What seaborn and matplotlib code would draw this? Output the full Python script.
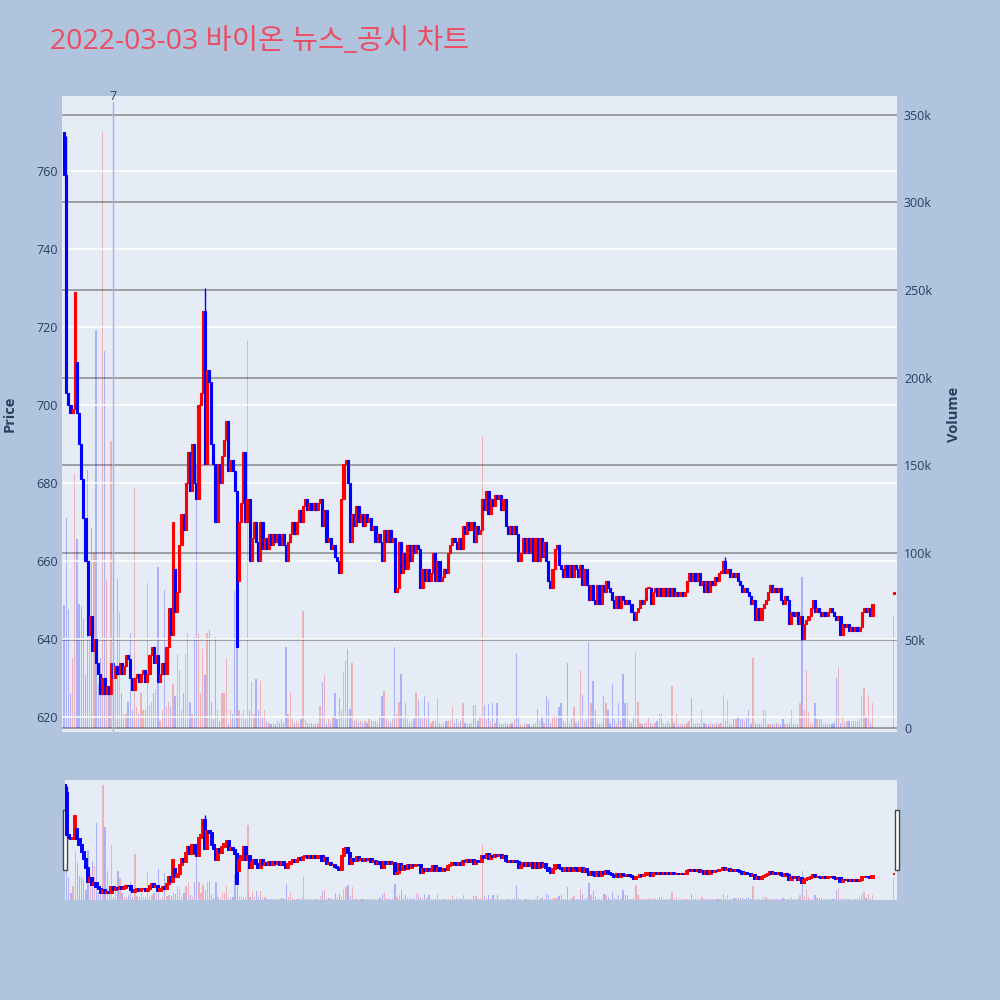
import numpy as np
import pandas as pd
import matplotlib
matplotlib.use("Agg")
import matplotlib.pyplot as plt
import matplotlib.transforms as mtransforms
from matplotlib.patches import Rectangle
import seaborn as sns

# minute closes from 09:01 onwards (one value per minute)
closes = [
    759, 703, 700, 698, 699, 729, 698, 690, 681, 671, 660, 641, 646, 637, 640, 634, 631, 626, 630, 626,
    628, 626, 634, 630, 633, 631, 634, 631, 633, 636, 635, 630, 627, 630, 631, 629, 631, 632, 629, 631,
    636, 638, 634, 636, 629, 631, 634, 631, 638, 648, 641, 670, 647, 652, 664, 672, 668, 680, 688, 678,
    690, 680, 676, 700, 703, 724, 685, 709, 706, 690, 685, 670, 685, 680, 687, 691, 696, 683, 686, 683,
    678, 638, 670, 675, 688, 670, 676, 660, 666, 670, 665, 660, 670, 663, 666, 663, 667, 664, 667, 665,
    667, 664, 667, 664, 660, 665, 667, 670, 667, 670, 673, 670, 674, 676, 673, 675, 673, 675, 673, 675,
    676, 669, 673, 665, 666, 663, 664, 661, 660, 657, 676, 685, 686, 680, 665, 672, 669, 674, 670, 672,
    669, 672, 670, 671, 668, 669, 665, 667, 665, 660, 668, 665, 668, 665, 666, 652, 653, 665, 657, 662,
    658, 664, 660, 664, 662, 664, 663, 653, 658, 655, 658, 655, 657, 662, 655, 660, 655, 656, 658, 657,
    662, 664, 666, 665, 663, 666, 663, 669, 667, 670, 668, 670, 665, 669, 667, 668, 676, 673, 678, 672,
    676, 674, 677, 676, 677, 673, 676, 669, 667, 669, 667, 669, 667, 660, 662, 666, 662, 666, 662, 666,
    660, 666, 660, 666, 661, 665, 660, 655, 653, 658, 663, 664, 659, 658, 656, 659, 656, 659, 656, 659,
    658, 656, 659, 654, 658, 654, 650, 654, 650, 649, 654, 649, 654, 652, 655, 653, 652, 650, 648, 651,
    648, 651, 650, 649, 650, 649, 647, 645, 647, 648, 650, 649, 650, 653, 653, 649, 652, 653, 651, 653,
    651, 653, 651, 653, 651, 653, 651, 652, 651, 652, 651, 652, 655, 657, 655, 657, 655, 657, 654, 655,
    652, 655, 652, 655, 654, 656, 655, 657, 657, 660, 657, 658, 656, 657, 656, 657, 655, 654, 652, 653,
    652, 651, 649, 650, 645, 648, 645, 648, 649, 650, 652, 654, 652, 653, 652, 653, 650, 649, 651, 650,
    644, 647, 646, 647, 644, 646, 640, 644, 645, 646, 648, 650, 647, 648, 647, 646, 647, 646, 647, 648,
    647, 646, 645, 646, 641, 644, 643, 644, 642, 643, 642, 643, 642, 643, 647, 648, 647, 648, 646, 649,
]

# volume per minute, thousands of shares
volumes_k = [
    70, 120, 68, 20, 40, 145, 108, 71, 69, 62, 30, 147, 78, 114, 100, 227, 25, 40, 340, 215,
    85, 20, 164, 10, 33, 85, 66, 20, 8, 8, 15, 54, 10, 137, 12, 8, 20, 10, 10, 83,
    13, 15, 20, 22, 92, 4, 10, 79, 12, 15, 12, 25, 18, 42, 33, 10, 20, 42, 54, 15,
    8, 52, 150, 54, 20, 45, 30, 54, 56, 15, 5, 52, 10, 4, 20, 20, 40, 2, 10, 8,
    78, 85, 10, 8, 10, 5, 221, 10, 26, 8, 28, 10, 27, 6, 10, 4, 3, 2, 3, 2,
    4, 3, 5, 3, 46, 8, 20, 5, 3, 4, 3, 5, 67, 4.5, 3, 2, 3, 2, 2, 3,
    12.5, 26, 30, 3, 5, 3, 6, 20, 5, 17, 10, 32, 38, 45, 11, 37, 4, 5, 3, 4,
    3, 4, 3, 5, 4, 4, 4, 3, 6, 18, 21, 5, 4, 3, 5, 46, 8, 15, 31, 6,
    14, 5, 3, 4, 5, 20, 16, 6, 5, 18, 6, 15, 3, 4, 4, 17, 3, 2, 3, 4,
    4, 4, 12, 3, 5, 3, 4, 14, 3, 2, 3, 3, 13, 13, 4, 6, 166, 13, 5, 13.5,
    4, 14, 3, 14.5, 3, 2, 2, 3, 2, 2, 3, 5, 43, 7, 2, 1, 2, 2, 2, 1,
    2, 3, 11, 4, 7, 3, 18, 16, 3, 7, 7, 7, 12, 14, 4, 3, 37, 3, 5, 12,
    3, 4, 33, 19, 4, 5, 49, 14, 27, 10, 3, 2, 3, 18, 14, 10, 3, 25, 5, 3,
    14, 4, 31, 14, 14, 4, 3, 6, 43, 15, 3, 2, 3, 3, 6, 3, 2, 3, 4, 8,
    8, 3, 2, 4, 3, 24, 3, 8, 2, 2, 2, 2, 3, 4, 17, 3, 2, 3, 2, 10,
    3, 2, 2, 3, 2, 2, 3, 2, 3, 19, 4, 16, 3, 2, 5, 5, 6, 5, 5, 4,
    6, 10, 2, 40, 3, 2, 2, 3, 10, 10, 2, 2, 2, 2, 3, 2, 2, 5, 2, 2,
    3, 10, 2, 3, 2, 14, 86, 10, 33, 9, 3, 2, 14, 5, 5, 5, 2, 3, 2, 2,
    2, 3, 28.5, 35, 3, 7, 3, 4, 4, 4, 4, 4, 4, 5, 18, 23, 7, 19, 3, 14,
]

# closing auction bar (15:30)
close_minute = 390
close_auction = {"open": 651.5, "close": 652, "volume_k": 64.5}

# opens that differ from the previous close, and visible wicks
open_fix = {1: 770, 7: 711, 53: 658, 83: 655}
high_fix = {2: 769, 67: 730, 133: 686, 311: 661}

news_minute = 24
news_label = "7"

hour_ticks = [60, 120, 180, 240, 300, 360]
hour_labels = ["10:00\nMar 3, 2022", "11:00", "12:00", "13:00", "14:00", "15:00"]
price_ticks = [620, 640, 660, 680, 700, 720, 740, 760]
vol_ticks = [0, 50000, 100000, 150000, 200000, 250000, 300000, 350000]
vol_labels = ["0", "50k", "100k", "150k", "200k", "250k", "300k", "350k"]

# ---- build frame ----
minutes = list(range(1, len(closes) + 1))
opens = [open_fix.get(1, closes[0])] + closes[:-1]
for k, v in open_fix.items():
    opens[k - 1] = v
df = pd.DataFrame({"minute": minutes, "open": opens, "close": closes,
                   "volume": np.array(volumes_k) * 1000})
df = pd.concat([df, pd.DataFrame({"minute": [close_minute],
                                  "open": [close_auction["open"]],
                                  "close": [close_auction["close"]],
                                  "volume": [close_auction["volume_k"] * 1000]})],
               ignore_index=True)
df["high"] = df[["open", "close"]].max(axis=1)
df["low"] = df[["open", "close"]].min(axis=1)
for k, v in high_fix.items():
    df.loc[df.minute == k, "high"] = v
df["up"] = df["close"] >= df["open"]
df["color"] = np.where(df["up"], "#FF0000", "#0000FF")

sns.set_theme(style="white")
plt.rcParams["font.family"] = ["Open Sans", "Noto Sans CJK KR", "DejaVu Sans"]

BG = "#B0C4DE"
PLOT_BG = "#E5ECF6"
TXT = "#2a3f5f"

fig = plt.figure(figsize=(10, 10), dpi=100, facecolor=BG)


def draw_candles(ax, d, width=1.0, lw=0.8):
    body = (d["close"] - d["open"]).abs().clip(lower=0.35)
    bottom = d[["open", "close"]].min(axis=1)
    ax.vlines(d["minute"], d["low"], d["high"], colors=d["color"], lw=1.0, zorder=3)
    ax.bar(d["minute"], body, bottom=bottom, width=width, color=d["color"],
           edgecolor=d["color"], linewidth=lw, zorder=4)


def draw_volume(ax, d, width=0.6):
    vcol = np.where(d["up"], "#FF0000", "#0000FF")
    ax.bar(d["minute"], d["volume"], width=width, color=vcol, alpha=0.25,
           linewidth=0, zorder=2)


# ---- main panel ----
ax_vol = fig.add_axes([0.062, 0.268, 0.835, 0.636])
ax = ax_vol.twinx()
ax_vol.set_facecolor(PLOT_BG)
ax.set_zorder(ax_vol.get_zorder() + 1)
ax.patch.set_visible(False)

draw_volume(ax_vol, df)
draw_candles(ax, df)

ax.set_xlim(0, 391.5)
ax_vol.set_xlim(0, 391.5)
ax.set_ylim(616.2, 779.2)
ax_vol.set_ylim(-2300, 360800)

# price axis on the left, volume on the right
ax.yaxis.tick_left()
ax.yaxis.set_label_position("left")
ax_vol.yaxis.tick_right()
ax_vol.yaxis.set_label_position("right")

ax.set_yticks(price_ticks)
ax.set_yticklabels([str(t) for t in price_ticks])
ax_vol.set_yticks(vol_ticks)
ax_vol.set_yticklabels(vol_labels)
ax_vol.set_xticks(hour_ticks)
ax_vol.set_xticklabels(hour_labels, linespacing=1.45)
ax.set_xticks([])

ax.grid(axis="y", color="white", lw=1.1)
ax.grid(axis="x", visible=False)
ax_vol.grid(axis="y", color="#8a8a8a", lw=1.1)
ax_vol.grid(axis="x", visible=False)

for a in (ax, ax_vol):
    for s in a.spines.values():
        s.set_visible(False)
    a.tick_params(length=0, labelsize=9, labelcolor=TXT)
ax.tick_params(axis="y", pad=3)
ax_vol.tick_params(axis="y", pad=5)
ax_vol.tick_params(axis="x", pad=6)

# news marker
ax.axvline(news_minute, ymin=0, ymax=0.99, color="#A9AEF2", lw=1.0, zorder=5)
trans = mtransforms.blended_transform_factory(ax.transData, ax.transAxes)
ax.text(news_minute, 1.0, news_label, transform=trans, ha="center", va="center",
        fontsize=9, color=TXT)

# ---- range slider ----
ax_svol = fig.add_axes([0.065, 0.100, 0.832, 0.120])
ax_s = ax_svol.twinx()
ax_svol.set_facecolor(PLOT_BG)
ax_s.set_zorder(ax_svol.get_zorder() + 1)
ax_s.patch.set_visible(False)
draw_volume(ax_svol, df)
draw_candles(ax_s, df, lw=1.4)
ax_s.set_xlim(1.2, 391.5)
ax_svol.set_xlim(1.2, 391.5)
ax_s.set_ylim(616.7, 776.7)
ax_svol.set_ylim(0, 355000)
for a in (ax_s, ax_svol):
    a.set_xticks([])
    a.set_yticks([])
    a.grid(False)
    for s in a.spines.values():
        s.set_visible(False)

for hx in (0.0625, 0.8945):
    fig.add_artist(Rectangle((hx, 0.130), 0.004, 0.060, transform=fig.transFigure,
                             facecolor="white", edgecolor="#444444", lw=1.0))

# ---- text ----
fig.text(0.05, 0.958, "2022-03-03 바이온 뉴스_공시 차트", fontsize=20.5,
         color="#EC4D63", ha="left", va="center")
fig.text(0.010, 0.586, "Price", rotation=90, fontsize=10.5, fontweight="bold",
         color=TXT, ha="center", va="center")
fig.text(0.954, 0.586, "Volume", rotation=90, fontsize=10.5, fontweight="bold",
         color=TXT, ha="center", va="center")

fig.savefig("out.png", dpi=100, facecolor=BG)
